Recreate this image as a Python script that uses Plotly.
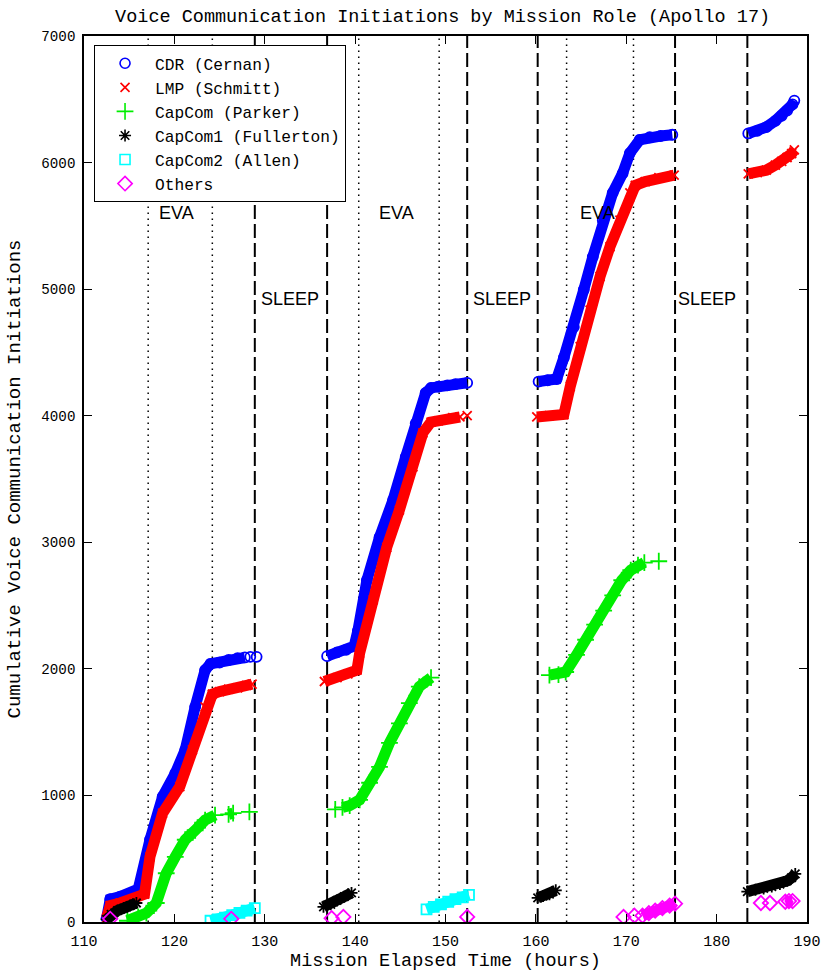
import plotly.graph_objects as go

# ---------------- data ----------------
# Mission elapsed time (hours) / cumulative counts; None separates segments
cdr_t = [112.5, 112.9, 114.0, 115.0, 116.0, 117.3, 118.7, 120.1, 121.2, 122.3, 123.4, 124.0, 125.0, 126.0, 127.0, 127.8, None, 128.4, None, 129.1, None,
         136.9, 138.0, 139.0, 139.9, 140.3, 141.3, 142.7, 144.2, 145.6, 146.7, 147.8, 148.4, 149.2, 150.2, 151.1, 152.4, None,
         160.3, 161.3, 162.3, 163.1, 164.2, 165.3, 166.3, 167.4, 168.5, 169.6, 170.4, 171.5, 172.6, 173.8, 175.1, None,
         183.5, 184.5, 185.5, 186.5, 187.2, 187.8, 188.4, 188.6]
cdr_v = [30, 180, 200, 220, 260, 650, 990, 1175, 1360, 1700, 1990, 2040, 2050, 2070, 2085, 2090, None, 2095, None, 2095, None,
         2100, 2130, 2150, 2180, 2300, 2700, 3040, 3335, 3675, 3940, 4180, 4220, 4230, 4240, 4250, 4260, None,
         4270, 4280, 4290, 4460, 4700, 4995, 5255, 5545, 5760, 5915, 6075, 6180, 6200, 6210, 6220, None,
         6230, 6250, 6280, 6330, 6370, 6410, 6460, 6490]

lmp_t = [112.5, 112.9, 114.0, 115.5, 116.7, 117.3, 118.7, 120.6, 122.0, 123.4, 124.2, 125.0, 126.0, 127.0, 128.0, 128.6, None,
         136.6, 138.0, 139.2, 140.2, 140.5, 142.0, 143.5, 144.9, 146.4, 147.5, 148.4, 149.2, 150.8, 151.6, None, 152.4, None,
         160.1, 161.5, 163.1, 163.8, 164.9, 166.0, 167.1, 168.2, 169.3, 170.4, 171.0, 172.1, 173.6, 175.3, None,
         183.5, 184.5, 185.5, 186.5, 187.2, 187.8, 188.3, 188.6]
lmp_v = [30, 130, 150, 180, 220, 515, 860, 1070, 1360, 1700, 1800, 1820, 1840, 1850, 1870, 1880, None,
         1900, 1930, 1960, 1990, 2125, 2545, 2960, 3255, 3595, 3865, 3950, 3960, 3985, 3990, None, 4000, None,
         3990, 4000, 4010, 4230, 4545, 4835, 5100, 5335, 5545, 5760, 5820, 5850, 5880, 5900, None,
         5910, 5920, 5940, 5980, 6010, 6040, 6070, 6100]

capcom_t = [114.8, 116.0, 116.9, 118.0, 119.1, 120.1, 121.2, 122.3, 123.4, 124.5, None, 126.0, 126.5, None, 128.3, None,
            137.8, None, 138.6, 139.4, 140.5, 141.6, 142.7, 143.8, 144.9, 146.0, 147.1, 148.4, None,
            161.5, 162.5, 163.3, 164.5, 165.5, 166.5, 167.5, 168.5, 169.5, 170.5, 171.3, 172.0, None, 173.6]
capcom_v = [10, 40, 70, 150, 385, 515, 650, 725, 805, 845, None, 850, 860, None, 870, None,
            890, None, 905, 920, 965, 1100, 1225, 1415, 1570, 1730, 1860, 1930, None,
            1950, 1955, 1975, 2110, 2230, 2350, 2460, 2580, 2700, 2780, 2820, 2840, None, 2850]

capcom1_t = [112.5, 113.0, 113.7, 114.4, 115.1, 115.8, None,
             136.5, 137.3, 138.0, 138.8, 139.6, None,
             160.2, 160.8, 161.5, 162.2, None,
             183.4, 184.3, 185.2, 186.1, 187.0, 187.8, 188.3, 188.7]
capcom1_v = [20, 60, 90, 110, 130, 150, None,
             120, 140, 170, 200, 230, None,
             190, 205, 220, 250, None,
             240, 255, 265, 280, 300, 325, 350, 380]

capcom2_t = [124.0, 124.8, 125.6, 126.4, 127.2, 128.0, 128.9, None,
             147.9, 148.7, 149.5, 150.3, 151.1, 151.9, 152.6]
capcom2_v = [10, 20, 35, 55, 72, 90, 110, None,
             100, 120, 140, 160, 180, 195, 215]

others_t = [112.9, None, 126.3, None, 137.4, None, 138.7, None, 152.4, None, 169.7, None, 170.9, None,
            171.8, 172.5, 173.2, 174.0, 174.8, 175.4, None, 184.9, None, 185.9, None, 187.6, 188.0, 188.4]
others_v = [25, None, 25, None, 30, None, 40, None, 40, None, 40, None, 50, None,
            50, 70, 90, 110, 130, 145, None, 150, None, 150, None, 160, 165, 165]

series_names = ["CDR (Cernan)", "LMP (Schmitt)", "CapCom (Parker)", "CapCom1 (Fullerton)", "CapCom2 (Allen)", "Others"]

sleep_bounds = [128.9, 136.9, 152.4, 160.2, 175.4, 183.4]
eva_bounds = [117.1, 124.2, 140.4, 149.3, 163.4, 170.8]

phase_labels = ["EVA", "SLEEP", "EVA", "SLEEP", "EVA", "SLEEP"]
phase_x = [120.2, 132.8, 144.6, 156.2, 166.8, 178.9]
phase_y = [5600, 4920, 5600, 4920, 5600, 4920]

x_ticks = [110, 120, 130, 140, 150, 160, 170, 180, 190]
y_ticks = [0, 1000, 2000, 3000, 4000, 5000, 6000, 7000]

# ---------------- styles ----------------
MONO = "Liberation Mono"
colors = ["#0000ff", "#ff0000", "#00ee00", "#000000", "#00ffff", "#ff00ff"]
symbols = ["circle-open", "x-thin-open", "cross-thin-open", "asterisk-open", "square-open", "diamond-open"]
msizes = [10, 9, 12, 10, 10, 11]

data = [(cdr_t, cdr_v), (lmp_t, lmp_v), (capcom_t, capcom_v),
        (capcom1_t, capcom1_v), (capcom2_t, capcom2_v), (others_t, others_v)]

fig = go.Figure()

for (t, v), c, s, ms in zip(data, colors, symbols, msizes):
    fig.add_trace(go.Scatter(
        x=t, y=v, mode="lines+markers", showlegend=False, connectgaps=False,
        line=dict(color=c, width=11),
        marker=dict(symbol=s, size=ms, color=c, line=dict(color=c, width=1.8)),
        hoverinfo="skip"))

for name, c, s, ms in zip(series_names, colors, symbols, msizes):
    fig.add_trace(go.Scatter(
        x=[None], y=[None], mode="markers", name=name,
        marker=dict(symbol=s, size=ms, color=c, line=dict(color=c, width=1.6))))

shapes = []
for t in sleep_bounds:
    shapes.append(dict(type="line", xref="x", yref="paper", x0=t, x1=t, y0=0, y1=1,
                       line=dict(color="black", width=2, dash="14px,5px"), layer="below"))
for t in eva_bounds:
    shapes.append(dict(type="line", xref="x", yref="paper", x0=t, x1=t, y0=0, y1=1,
                       line=dict(color="black", width=1.5, dash="1.5px,4.5px"), layer="below"))

annotations = []
for lab, px, py in zip(phase_labels, phase_x, phase_y):
    annotations.append(dict(x=px, y=py, xref="x", yref="y", text=lab, showarrow=False,
                            font=dict(family="Liberation Sans", size=18, color="black")))

FIG_H = 986
fig.update_layout(
    width=833, height=FIG_H,
    margin=dict(l=83, r=16, t=36, b=FIG_H - 922),
    paper_bgcolor="white", plot_bgcolor="white",
    title=dict(text="Voice Communication Initiations by Mission Role (Apollo 17)",
               x=0.496, xref="paper", xanchor="center", y=1 - 15.5 / FIG_H, yanchor="middle", yref="container",
               font=dict(family=MONO, size=18.5, color="black")),
    xaxis=dict(range=[110, 190], tickvals=x_ticks, showgrid=False, zeroline=False,
               showline=True, linecolor="black", linewidth=1.5, mirror="ticks",
               ticks="inside", ticklen=8, tickcolor="black", ticklabelstandoff=4,
               tickfont=dict(family=MONO, size=15, color="black"),
               title=dict(text="Mission Elapsed Time (hours)", standoff=0,
                          font=dict(family=MONO, size=18.5, color="black"))),
    yaxis=dict(range=[0, 7000], tickvals=y_ticks, showgrid=False, zeroline=False,
               showline=True, linecolor="black", linewidth=1.5, mirror="ticks",
               ticks="inside", ticklen=8, tickcolor="black", ticklabelstandoff=4,
               tickfont=dict(family=MONO, size=14.2, color="black"),
               title=dict(text="Cumulative Voice Communication Initiations", standoff=16,
                          font=dict(family=MONO, size=19, color="black"))),
    legend=dict(x=0.0136, y=0.9898, xanchor="left", yanchor="top",
                bgcolor="white", bordercolor="black", borderwidth=1.2,
                font=dict(family=MONO, size=16.2, color="black"),
                itemwidth=50, tracegroupgap=0),
    shapes=shapes, annotations=annotations,
)

fig.write_html("out.html", config={"displayModeBar": False},
               post_script="document.body.style.margin='0';document.body.style.overflow='hidden';")
